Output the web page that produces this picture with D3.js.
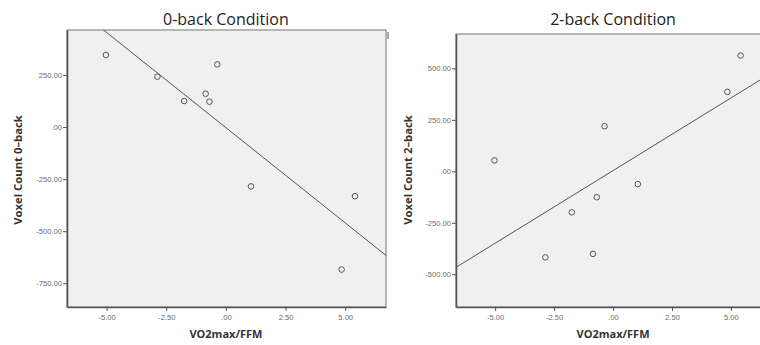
<!DOCTYPE html>
<html><head><meta charset="utf-8">
<script src="https://cdn.jsdelivr.net/npm/d3@7"></script>
<style>body{margin:0;background:#fff}svg{display:block}</style>
</head><body>
<svg id="c" width="760" height="345"></svg>
<script>
// Data
const vo2 = [-5.03, -2.87, -1.75, -0.85, -0.69, -0.36, 1.05, 4.85, 5.41];
const count0 = [346, 242, 125, 160, 122, 301, -285, -684, -332];
const count2 = [53, -418, -199, -401, -126, 219, -62, 386, 562];
const xTicks = [-5, -2.5, 0, 2.5, 5];
const yTicks0 = [250, 0, -250, -500, -750];
const yTicks2 = [500, 250, 0, -250, -500];
const titles = ["0-back Condition", "2-back Condition"];
const yLabels = ["Voxel Count 0\u2013back", "Voxel Count 2\u2013back"];
const xLabel = "VO2max/FFM";

const svg = d3.select("#c");
const fmt = v => { let s = d3.format(".2f")(Math.abs(v)); if (s.startsWith("0")) s = s.slice(1); return (v < 0 ? "-" : "") + s; };

const panels = [
  {x0: 67, x1: 386, y0: 30, y1: 307, xd: [-6.66, 6.71], yd: [-864, 466], ys: count0, yt: yTicks0, title: titles[0], yl: yLabels[0], ylx: 18},
  {x0: 456, x1: 771, y0: 34, y1: 307, xd: [-6.66, 6.7], yd: [-659, 667], ys: count2, yt: yTicks2, title: titles[1], yl: yLabels[1], ylx: 408}
];

panels.forEach((p, i) => {
  const x = d3.scaleLinear().domain(p.xd).range([p.x0, p.x1]);
  const y = d3.scaleLinear().domain(p.yd).range([p.y1, p.y0]);
  const g = svg.append("g");
  g.append("rect").attr("x", p.x0).attr("y", p.y0).attr("width", p.x1 - p.x0).attr("height", p.y1 - p.y0)
    .attr("fill", "#f0f0f0").attr("stroke", "#8a8a8a").attr("stroke-width", 1.2);
  const cid = "clip" + i;
  svg.append("clipPath").attr("id", cid).append("rect")
    .attr("x", p.x0).attr("y", p.y0).attr("width", p.x1 - p.x0).attr("height", p.y1 - p.y0);

  // axes
  const ax = g.append("g").attr("transform", `translate(0,${p.y1})`)
    .call(d3.axisBottom(x).tickValues(xTicks).tickFormat(fmt).tickSize(4).tickSizeOuter(0));
  const ay = g.append("g").attr("transform", `translate(${p.x0},0)`)
    .call(d3.axisLeft(y).tickValues(p.yt).tickFormat(fmt).tickSize(4).tickSizeOuter(0));
  [ax, ay].forEach(a => {
    a.select(".domain").attr("stroke", "#555").attr("stroke-width", 1.6);
    a.selectAll(".tick line").attr("stroke", "#555");
    a.selectAll(".tick text").attr("fill", "#6a6a6a").attr("font-family", "Liberation Sans, Arial, sans-serif").attr("font-size", 7.6);
  });
  ax.selectAll(".tick text").attr("dy", "0.71em").attr("y", 8);
  ay.selectAll(".tick text").attr("x", -5);

  // regression line (least squares)
  const mx = d3.mean(vo2), my = d3.mean(p.ys);
  const b = d3.sum(vo2, (v, k) => (v - mx) * (p.ys[k] - my)) / d3.sum(vo2, v => (v - mx) ** 2);
  const a0 = my - b * mx;
  g.append("line").attr("clip-path", `url(#${cid})`)
    .attr("x1", x(p.xd[0])).attr("y1", y(a0 + b * p.xd[0]))
    .attr("x2", x(p.xd[1])).attr("y2", y(a0 + b * p.xd[1]))
    .attr("stroke", "#555").attr("stroke-width", 1);

  // points
  g.selectAll("circle").data(vo2).join("circle")
    .attr("cx", d => x(d)).attr("cy", (d, k) => y(p.ys[k])).attr("r", 2.8)
    .attr("fill", "none").attr("stroke", "#555").attr("stroke-width", 1);

  // texts
  svg.append("text").attr("x", x(0)).attr("y", 25).attr("text-anchor", "middle")
    .attr("font-family", "Open Sans, sans-serif").attr("font-size", 16).attr("fill", "#222").text(p.title);
  svg.append("text").attr("x", x(0)).attr("y", 338).attr("text-anchor", "middle")
    .attr("font-family", "Open Sans, sans-serif").attr("font-weight", "bold").attr("font-size", 11).attr("fill", "#333").text(xLabel);
  svg.append("text").attr("transform", `translate(${p.ylx + 4},${170}) rotate(-90)`).attr("text-anchor", "middle")
    .attr("font-family", "Open Sans, sans-serif").attr("font-weight", "bold").attr("font-size", 11.3).attr("fill", "#333").text(p.yl);
});
// small mark at top right of left panel
svg.append("line").attr("x1", 388).attr("x2", 388).attr("y1", 32).attr("y2", 39).attr("stroke", "#888").attr("stroke-width", 1.5);
</script>
</body></html>
